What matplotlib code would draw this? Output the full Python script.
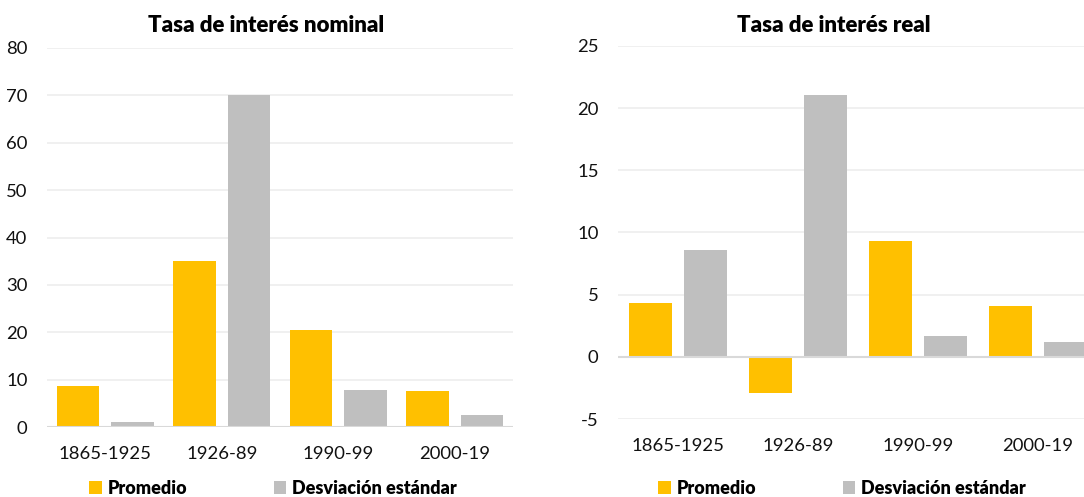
import matplotlib
matplotlib.use("Agg")
import matplotlib.pyplot as plt
from matplotlib.patches import Patch
import numpy as np

plt.rcParams['font.family'] = ['Lato', 'DejaVu Sans']

categories = ["1865-1925", "1926-89", "1990-99", "2000-19"]
series_names = ["Promedio", "Desviación estándar"]
nominal_mean = [8.75, 35.0, 20.4, 7.55]
nominal_sd = [1.1, 70.1, 7.8, 2.6]
real_mean = [4.32, -2.87, 9.31, 4.08]
real_sd = [8.61, 21.03, 1.66, 1.18]
titles = ["Tasa de interés nominal", "Tasa de interés real"]

GOLD = "#FFC000"
GRAY = "#BFBFBF"
W, H = 1084, 497

fig = plt.figure(figsize=(W / 100, H / 100), dpi=100)

def px_axes(left, top, width, bottom):
    return fig.add_axes([left / W, 1 - bottom / H, width / W, (bottom - top) / H])

ax1 = px_axes(47, 48, 466, 427)
ax2 = px_axes(618, 46, 480, 419)

def draw(ax, mean, sd, ylim, yticks, bw, gap):
    x = np.arange(len(categories))
    off = gap / 2 + bw / 2
    ax.bar(x - off, mean, width=bw, color=GOLD, zorder=3)
    ax.bar(x + off, sd, width=bw, color=GRAY, zorder=3)
    ax.set_xlim(-0.5, len(categories) - 0.5)
    ax.set_ylim(*ylim)
    ax.set_yticks(yticks)
    ax.set_yticklabels([str(v) for v in yticks])
    ax.set_xticks(x)
    ax.set_xticklabels(categories)
    ax.grid(axis='y', color='#EDEDED', linewidth=1.2, zorder=0)
    ax.axhline(0, color='#D9D9D9', linewidth=1.5, zorder=4)
    for s in ax.spines.values():
        s.set_visible(False)
    ax.tick_params(axis='both', length=0, labelsize=13.3, colors='#111111')
    ax.tick_params(axis='y', pad=14)
    ax.tick_params(axis='x', pad=14)

draw(ax1, nominal_mean, nominal_sd, (0, 80), list(range(0, 81, 10)), 0.365, 0.1)
draw(ax2, real_mean, real_sd, (-5, 25), list(range(-5, 26, 5)), 0.3625, 0.095)

fig.text(266 / W, 1 - 25 / H, titles[0], ha='center', va='center', fontsize=16, fontweight='heavy')
fig.text(834 / W, 1 - 25 / H, titles[1], ha='center', va='center', fontsize=16, fontweight='heavy')

handles = [Patch(facecolor=GOLD, edgecolor='none'), Patch(facecolor=GRAY, edgecolor='none')]
for cx in (273, 842):
    fig.legend(handles, series_names, loc='center', bbox_to_anchor=(cx / W, 1 - 488 / H),
               ncol=2, frameon=False, handlelength=0.7, handleheight=0.7,
               handletextpad=0.3, columnspacing=4.8,
               prop={'weight': 'heavy', 'size': 13})

fig.savefig("out.png", dpi=100)
